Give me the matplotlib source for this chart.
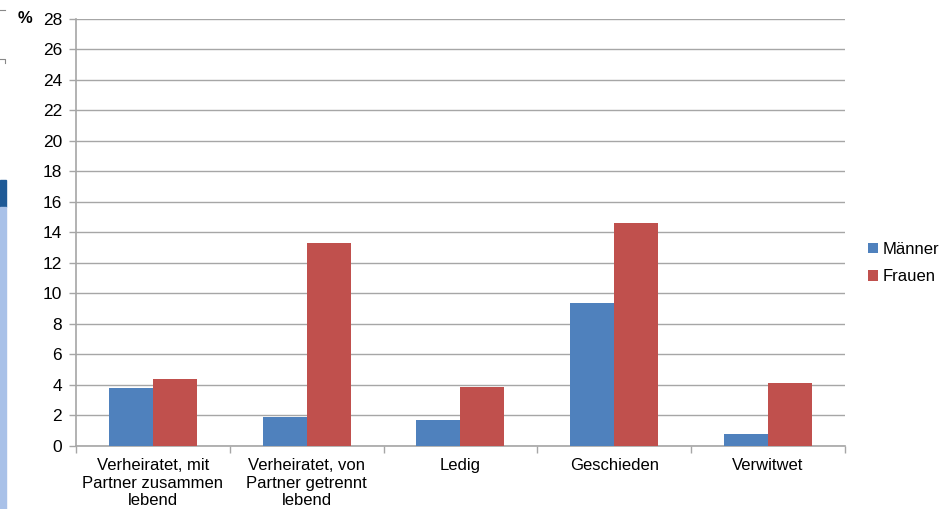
import numpy as np
import matplotlib.pyplot as plt
from matplotlib.patches import Rectangle

plt.rcParams['font.family'] = ['Liberation Sans', 'DejaVu Sans']

# Anteile nach Familienstand (%)
categories = ['Verheiratet, mit\nPartner zusammen\nlebend',
              'Verheiratet, von\nPartner getrennt\nlebend',
              'Ledig', 'Geschieden', 'Verwitwet']
maenner = [3.8, 1.9, 1.7, 9.4, 0.8]
frauen = [4.4, 13.3, 3.9, 14.6, 4.1]
series_names = ['Männer', 'Frauen']

col_m = '#4F81BD'
col_f = '#C0504D'
grid_col = '#a6a6a6'

fig = plt.figure(figsize=(9.52, 5.09), dpi=100)
ax = fig.add_axes([0.0798, 0.1238, 0.8078, 0.8389])

x = np.arange(len(categories))
w = 0.286
ax.bar(x - w / 2, maenner, w, color=col_m, label=series_names[0], zorder=3)
ax.bar(x + w / 2, frauen, w, color=col_f, label=series_names[1], zorder=3)

ax.set_xlim(-0.5, len(categories) - 0.5)
ax.set_ylim(0, 28)
ax.set_yticks(np.arange(0, 29, 2))
ax.yaxis.grid(True, color=grid_col, linewidth=1.0, zorder=0)
ax.set_axisbelow(True)

# Kategorie-Beschriftungen zwischen den Trennstrichen
ax.set_xticks(np.arange(-0.5, len(categories), 1.0))
ax.set_xticklabels([])
ax.set_xticks(x, minor=True)
ax.set_xticklabels(categories, minor=True, fontsize=12, linespacing=1.2)
ax.tick_params(axis='x', which='minor', length=0, pad=9)
ax.tick_params(axis='x', which='major', length=5, color=grid_col, width=1.0)
ax.tick_params(axis='y', length=5, color=grid_col, width=1.0, labelsize=12.5, pad=5)

for side in ['top', 'right']:
    ax.spines[side].set_visible(False)
for side in ['left', 'bottom']:
    ax.spines[side].set_color(grid_col)
    ax.spines[side].set_linewidth(1.2)

fig.text(0.018, 0.963, '%', fontsize=12, fontweight='bold', va='center', ha='left')

leg = fig.legend(loc='center left', bbox_to_anchor=(0.905, 0.483), frameon=False,
                 fontsize=12, handlelength=0.6, handleheight=0.6,
                 handletextpad=0.25, labelspacing=0.75, borderaxespad=0)

# Randelemente links
fig.add_artist(Rectangle((0, 1 - 207 / 509), 6 / 952, 27 / 509,
                         transform=fig.transFigure, color='#1f5a96', zorder=0))
fig.add_artist(Rectangle((0, 0), 6 / 952, 1 - 207 / 509,
                         transform=fig.transFigure, color='#a9c1e8', zorder=0))
fig.add_artist(plt.Line2D([0, 5 / 952], [1 - 10 / 509, 1 - 10 / 509],
                          transform=fig.transFigure, color='#888888', linewidth=0.8))
fig.add_artist(plt.Line2D([0, 5 / 952, 5 / 952], [1 - 59 / 509, 1 - 59 / 509, 1 - 63 / 509],
                          transform=fig.transFigure, color='#888888', linewidth=0.8))

fig.savefig('out.png', dpi=100)
